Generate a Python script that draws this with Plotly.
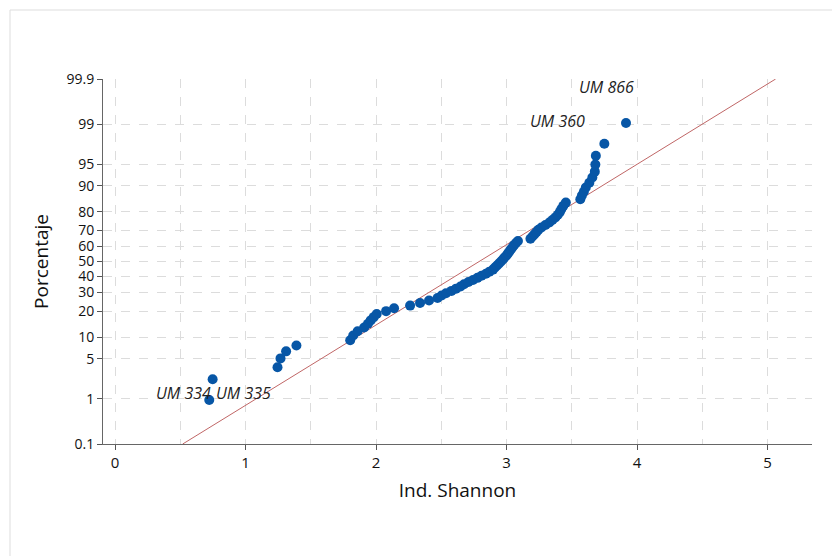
import plotly.graph_objects as go
from statistics import NormalDist

# Shannon index values (sorted)
shannon = [0.722, 0.748, 1.245, 1.268, 1.311, 1.390,
           1.802, 1.825, 1.859, 1.909, 1.938, 1.959, 1.982, 2.005, 2.077, 2.138,
           2.261, 2.337, 2.406, 2.471,
           2.502, 2.536, 2.578, 2.613, 2.647, 2.674, 2.708, 2.743, 2.777, 2.808,
           2.842, 2.869, 2.896, 2.911, 2.927, 2.942, 2.957, 2.972, 2.984, 2.999,
           3.011, 3.022, 3.034, 3.045, 3.057, 3.072, 3.087,
           3.183, 3.198, 3.213, 3.229, 3.244, 3.267, 3.298, 3.328, 3.351, 3.374,
           3.393, 3.409, 3.420, 3.435, 3.454,
           3.565, 3.577, 3.592, 3.607, 3.634, 3.657, 3.676, 3.680, 3.684, 3.749, 3.915]

# fitted normal line parameters
fit_mean = 2.79
fit_sd = 0.735

y_tick_pct = [0.1, 1, 5, 10, 20, 30, 40, 50, 60, 70, 80, 90, 95, 99, 99.9]
y_tick_text = ["0.1", "1", "5", "10", "20", "30", "40", "50", "60", "70", "80", "90", "95", "99", "99.9"]
x_tick_vals = [0, 1, 2, 3, 4, 5]

labels_text = ["UM 866", "UM 360", "UM 334", "UM 335"]
labels_x = [3.764, 3.389, 0.524, 0.987]
labels_pct = [99.84, 99.14, 1.28, 1.28]

nd = NormalDist()
n = len(shannon)
# median-rank plotting positions (i - 0.3) / (n + 0.4)
pct = [(i + 1 - 0.3) / (n + 0.4) for i in range(n)]
z = [nd.inv_cdf(p) for p in pct]

zmin = nd.inv_cdf(0.001)
zmax = nd.inv_cdf(0.999)

fig = go.Figure()
fig.add_trace(go.Scatter(
    x=[fit_mean + fit_sd * zmin, fit_mean + fit_sd * zmax], y=[zmin, zmax],
    mode="lines", line=dict(color="#c06666", width=1), hoverinfo="skip", showlegend=False))
fig.add_trace(go.Scatter(
    x=shannon, y=z, mode="markers",
    marker=dict(color="#0756a6", size=10, line=dict(width=0)), showlegend=False))

for t, lx, lp in zip(labels_text, labels_x, labels_pct):
    fig.add_annotation(x=lx, y=nd.inv_cdf(lp / 100), text="<i>" + t + "</i>", showarrow=False,
                       font=dict(family="Open Sans", size=16, color="#222222"))

# page has an 8px body margin; margins are compensated for it
L, R, T, B = 95, 36, 71, 120
W, H = 840, 556
pw, ph = W - L - R, H - T - B
fig.update_layout(
    width=W, height=H,
    margin=dict(l=L, r=R, t=T, b=B, autoexpand=False),
    paper_bgcolor="white", plot_bgcolor="white",
    font=dict(family="Open Sans", color="#111111"),
    shapes=[dict(type="line", xref="paper", yref="paper",
                 x0=(2 - L) / pw, x1=(2 - L) / pw, y0=-B / ph, y1=(H - 2 - B) / ph,
                 line=dict(color="#dddddd", width=1)),
            dict(type="line", xref="paper", yref="paper",
                 x0=(2 - L) / pw, x1=(W - L) / pw, y0=(H - 2 - B) / ph, y1=(H - 2 - B) / ph,
                 line=dict(color="#dddddd", width=1))],
)
fig.update_xaxes(
    range=[-0.092, 5.34], tickvals=x_tick_vals, ticks="outside", ticklen=5, tickcolor="#555555",
    showline=True, linecolor="#666666", linewidth=1, zeroline=False,
    showgrid=True, gridcolor="#dcdcdc", griddash="dash", gridwidth=1,
    minor=dict(dtick=0.5, tick0=0, showgrid=True, gridcolor="#dcdcdc", griddash="dash", ticks=""),
    tickfont=dict(size=15, color="#111111"),
    title=dict(text="Ind. Shannon", font=dict(size=19, color="#111111"), standoff=12),
)
fig.update_yaxes(
    range=[zmin, zmax], tickvals=[nd.inv_cdf(p / 100) for p in y_tick_pct], ticktext=y_tick_text,
    ticks="outside", ticklen=5, tickcolor="#555555",
    showline=True, linecolor="#666666", linewidth=1, zeroline=False,
    showgrid=True, gridcolor="#dcdcdc", griddash="dash", gridwidth=1,
    tickfont=dict(size=14, color="#111111"),
    title=dict(text="Porcentaje", font=dict(size=19, color="#111111"), standoff=12),
)
fig.write_html("out.html")
